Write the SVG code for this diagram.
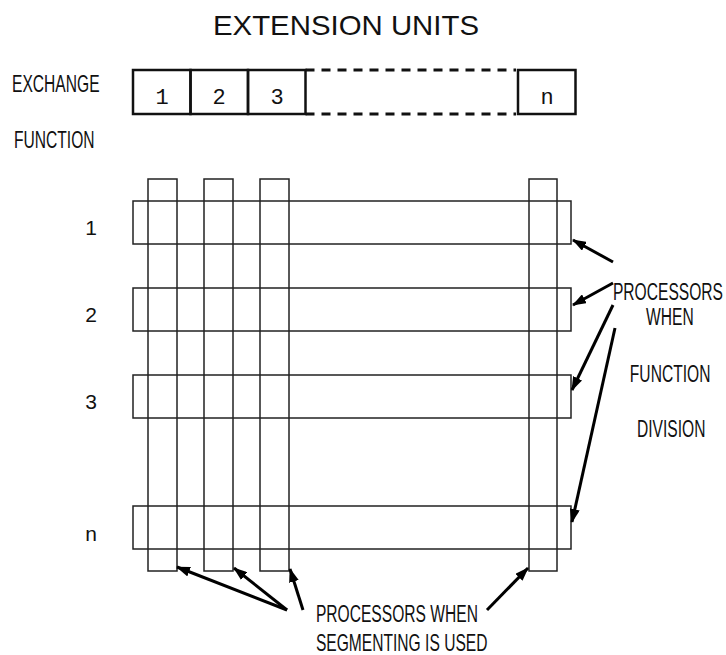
<svg xmlns="http://www.w3.org/2000/svg" width="726" height="655" viewBox="0 0 726 655">
<style>
.t{font-family:"Liberation Sans",Arial,sans-serif;font-size:24px;fill:#111}
.ttl{font-family:"Liberation Sans",Arial,sans-serif;font-size:28px;fill:#111}
.lbl{font-family:"Liberation Sans",Arial,sans-serif;font-size:21px;fill:#111;text-anchor:middle}
.dig{font-family:"Liberation Mono","Courier New",monospace;font-size:22px;fill:#111;text-anchor:middle}
.box{fill:none;stroke:#111;stroke-width:2.5}
.dash{fill:none;stroke:#111;stroke-width:3;stroke-dasharray:9 7}
.grid{fill:none;stroke:#222;stroke-width:1.5}
.arr{fill:none;stroke:#000;stroke-width:3;marker-end:url(#ah)}
</style>
<defs>
<marker id="ah" markerUnits="userSpaceOnUse" markerWidth="14" markerHeight="10" refX="13" refY="5" orient="auto">
<path d="M0,0 L14,5 L0,10 z" fill="#000"/>
</marker>
</defs>
<rect width="726" height="655" fill="#fff"/>
<g id="title"><text class="ttl" x="213" y="35" textLength="266" lengthAdjust="spacingAndGlyphs">EXTENSION UNITS</text></g>
<g id="exchange-label" transform="scale(0.65 1)">
<text class="t" x="18.5" y="92">EXCHANGE</text>
<text class="t" x="21.5" y="148">FUNCTION</text>
</g>
<g id="unit-1"><rect class="box" x="133" y="70" width="57.5" height="44"/><text class="dig" x="162" y="104">1</text></g>
<g id="unit-2"><rect class="box" x="190.5" y="70" width="57.5" height="44"/><text class="dig" x="219" y="104">2</text></g>
<g id="unit-3"><rect class="box" x="248" y="70" width="57.5" height="44"/><text class="dig" x="277" y="104">3</text></g>
<g id="unit-dashed"><line class="dash" x1="305.5" y1="70" x2="516" y2="70"/><line class="dash" x1="305.5" y1="114" x2="516" y2="114"/></g>
<g id="unit-n"><rect class="box" x="518" y="70" width="57.5" height="44"/><text class="dig" x="547" y="104">n</text></g>
<g id="rows">
<g id="row-1"><rect class="grid" x="133" y="201" width="438" height="43"/></g>
<g id="row-2"><rect class="grid" x="133" y="288" width="438" height="43"/></g>
<g id="row-3"><rect class="grid" x="133" y="375" width="438" height="43"/></g>
<g id="row-n"><rect class="grid" x="133" y="506" width="438" height="43"/></g>
</g>
<g id="columns">
<g id="col-1"><rect class="grid" x="148" y="179" width="29" height="392"/></g>
<g id="col-2"><rect class="grid" x="204" y="179" width="29" height="392"/></g>
<g id="col-3"><rect class="grid" x="260" y="179" width="29" height="392"/></g>
<g id="col-n"><rect class="grid" x="529" y="179" width="28" height="392"/></g>
</g>
<g id="row-labels">
<text class="lbl" x="91" y="235">1</text>
<text class="lbl" x="91" y="322">2</text>
<text class="lbl" x="91" y="409">3</text>
<text class="lbl" x="91" y="541">n</text>
</g>
<g id="function-division-label" transform="scale(0.65 1)">
<text class="t" x="943" y="300">PROCESSORS</text>
<text class="t" x="994" y="325">WHEN</text>
<text class="t" x="969" y="382">FUNCTION</text>
<text class="t" x="980" y="437">DIVISION</text>
</g>
<g id="segmenting-label" transform="scale(0.65 1)">
<text class="t" x="486" y="622">PROCESSORS WHEN</text>
<text class="t" x="486" y="651">SEGMENTING IS USED</text>
</g>
<g id="connectors">
<line class="arr" x1="613" y1="262" x2="573" y2="240"/>
<line class="arr" x1="613" y1="283" x2="573" y2="305"/>
<line class="arr" x1="613" y1="305" x2="572" y2="390"/>
<line class="arr" x1="615" y1="328" x2="572" y2="522"/>
<line class="arr" x1="287" y1="610" x2="177" y2="567"/>
<line class="arr" x1="287" y1="610" x2="234" y2="568"/>
<line class="arr" x1="303" y1="610" x2="290" y2="569"/>
<line class="arr" x1="487" y1="610" x2="528" y2="568"/>
</g>
</svg>
